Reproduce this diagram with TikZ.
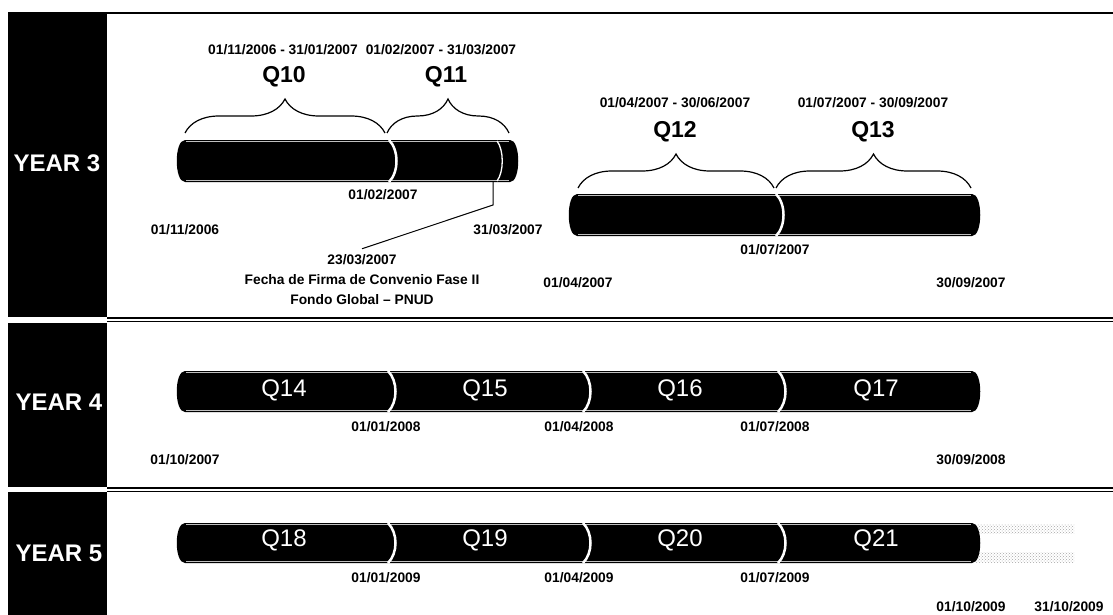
\documentclass[tikz,border=0pt]{standalone}
\usepackage{fontspec}
\setmainfont{Liberation Sans}
\usetikzlibrary{decorations.pathreplacing,patterns}

\tikzset{
  fechatxt/.style={font=\bfseries\fontsize{13.8}{20}\selectfont, inner sep=1pt},
  qtxt/.style={font=\bfseries\fontsize{23}{26}\selectfont, inner sep=1pt},
  qblanco/.style={font=\fontsize{24}{26}\selectfont, text=white, inner sep=1pt},
  aniotxt/.style={font=\bfseries\fontsize{24}{28}\selectfont, text=white, inner sep=1pt},
  llave/.style={decorate, decoration={brace, amplitude=34pt}, line width=1.2pt},
  corte/.style={white, line width=2.5pt},
}

% tubo negro: x0, x1, arriba, abajo
\newcommand{\tubo}[4]{%
  \fill[black] (#1+8,#3) -- (#2-8,#3) .. controls (#2+3,#3) and (#2+3,#4) .. (#2-8,#4)
    -- (#1+8,#4) .. controls (#1-3,#4) and (#1-3,#3) .. (#1+8,#3) -- cycle;
  \draw[gray!50,line width=1.5pt] (#1+9,#3+1.5) -- (#2-9,#3+1.5);
  \draw[gray!50,line width=1.5pt] (#1+9,#4-1.5) -- (#2-9,#4-1.5);}
\newcommand{\cortar}[3]{%
  \draw[corte] (#1,#2) .. controls (#1+10,#2+10) and (#1+10,#3-10) .. (#1,#3);}

\begin{document}
\begin{tikzpicture}[x=1pt,y=-1pt]
\useasboundingbox (0,0) rectangle (1113,615);

% marco y columnas
\fill[black] (8,13) rectangle (107,316.5);
\fill[black] (8,322.5) rectangle (107,487);
\fill[black] (8,492) rectangle (107,615);
\draw[line width=2pt] (8,13) -- (1113,13);
\draw[line width=1.8pt] (107,318) -- (1113,318);
\draw[line width=1pt] (107,321.5) -- (1113,321.5);
\draw[line width=1.8pt] (107,488) -- (1113,488);
\draw[line width=1pt] (107,491.3) -- (1113,491.3);

\node[aniotxt] (y3) at (57,163) {YEAR 3};
\node[aniotxt] (y4) at (59,402) {YEAR 4};
\node[aniotxt] (y5) at (59,553) {YEAR 5};

% YEAR 3
\node[fechatxt] (r10) at (283,50) {01/11/2006 - 31/01/2007};
\node[fechatxt] (r11) at (441,50) {01/02/2007 - 31/03/2007};
\node[qtxt] (q10) at (284,77) {Q10};
\node[qtxt] (q11) at (446,77) {Q11};
\draw[llave] (185,133) -- (385,133);
\draw[llave] (387,133) -- (509,133);
\tubo{177}{518}{140}{182}
\cortar{389}{140}{182}
\draw[white,line width=1.3pt] (497,141) .. controls (504,150) and (504,172) .. (497,181);
\node[fechatxt] (d1) at (383,195) {01/02/2007};
\node[fechatxt] (d2) at (185,230) {01/11/2006};
\node[fechatxt] (d3) at (508,230) {31/03/2007};
\coordinate (firma) at (493,182);
\coordinate (codo) at (493,205);
\node[fechatxt, align=center] (fecha) at (362,280) {23/03/2007\\Fecha de Firma de Convenio Fase II\\Fondo Global – PNUD};
\draw[line width=1pt] (firma) -- (codo) -- ([yshift=5pt]fecha.north);

\node[fechatxt] (r12) at (675,103) {01/04/2007 - 30/06/2007};
\node[fechatxt] (r13) at (873,103) {01/07/2007 - 30/09/2007};
\node[qtxt] (q12) at (675,132) {Q12};
\node[qtxt] (q13) at (873,132) {Q13};
\draw[llave] (578,188) -- (774,188);
\draw[llave] (776,188) -- (971,188);
\tubo{569}{980}{194}{236}
\cortar{776}{194}{236}
\node[fechatxt] (d4) at (775,250) {01/07/2007};
\node[fechatxt] (d5) at (578,283) {01/04/2007};
\node[fechatxt] (d6) at (971,283) {30/09/2007};

% YEAR 4
\tubo{177}{980}{371}{412}
\foreach \x in {388,583,778} {\cortar{\x}{371}{412}}
\foreach \x/\q in {284/14,485/15,680/16,876/17}
  \node[qblanco] (q\q) at (\x,390) {Q\q};
\node[fechatxt] (d7) at (386,427) {01/01/2008};
\node[fechatxt] (d8) at (579,427) {01/04/2008};
\node[fechatxt] (d9) at (775,427) {01/07/2008};
\node[fechatxt] (d10) at (185,460) {01/10/2007};
\node[fechatxt] (d11) at (971,460) {30/09/2008};

% YEAR 5
\fill[pattern=crosshatch dots, pattern color=gray!70] (975,524) rectangle (1074,533);
\fill[pattern=crosshatch dots, pattern color=gray!70] (975,552) rectangle (1074,562);
\tubo{177}{980}{523}{563}
\foreach \x in {388,583,778} {\cortar{\x}{523}{563}}
\foreach \x/\q in {284/18,485/19,680/20,876/21}
  \node[qblanco] (q\q) at (\x,540) {Q\q};
\node[fechatxt] (d12) at (386,578) {01/01/2009};
\node[fechatxt] (d13) at (579,578) {01/04/2009};
\node[fechatxt] (d14) at (775,578) {01/07/2009};
\node[fechatxt] (d15) at (971,607) {01/10/2009};
\node[fechatxt] (d16) at (1069,607) {31/10/2009};
\end{tikzpicture}
\end{document}
